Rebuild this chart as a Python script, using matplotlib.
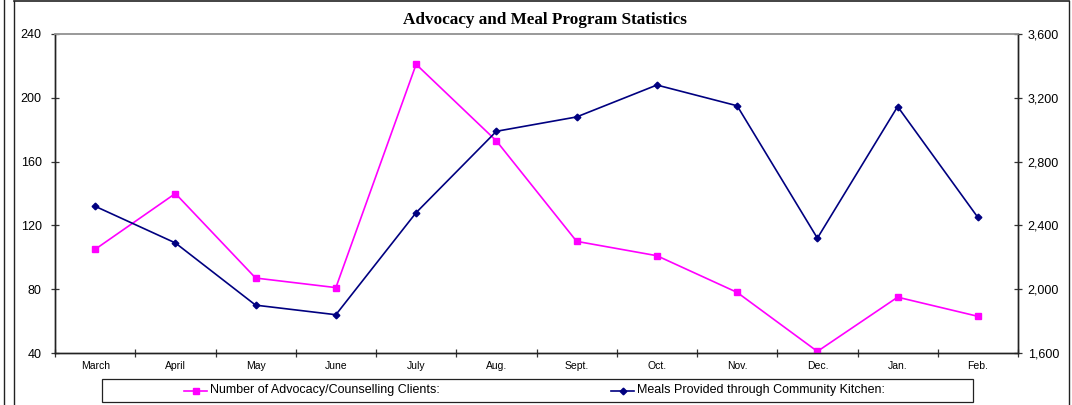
import matplotlib
matplotlib.use("Agg")
import matplotlib.pyplot as plt
from matplotlib.ticker import FuncFormatter, FixedLocator
from matplotlib.lines import Line2D
from matplotlib.patches import Rectangle

months = ["March", "April", "May", "June", "July", "Aug.", "Sept.", "Oct.",
          "Nov.", "Dec.", "Jan.", "Feb."]
advocacy_clients = [105, 140, 87, 81, 221, 173, 110, 101, 78, 41, 75, 63]
meals_provided = [2520, 2290, 1900, 1840, 2480, 2990, 3080, 3280, 3150, 2320, 3145, 2450]
left_ticks = [40, 80, 120, 160, 200, 240]
right_ticks = [1600, 2000, 2400, 2800, 3200, 3600]
title = "Advocacy and Meal Program Statistics"
label_adv = "Number of Advocacy/Counselling Clients:"
label_meals = "Meals Provided through Community Kitchen:"

W, H = 1072, 405
fig = plt.figure(figsize=(W / 100, H / 100), dpi=100)
fig.patch.set_facecolor("white")

L, R, T, B = 55, 1018, 34, 353
ax = fig.add_axes([L / W, 1 - B / H, (R - L) / W, (B - T) / H])
ax2 = ax.twinx()

x = list(range(len(months)))
ax.plot(x, advocacy_clients, color="#FF00FF", lw=1.2, marker="s", ms=4.2,
        mec="#FF00FF", mfc="#FF00FF", zorder=3)
ax2.plot(x, meals_provided, color="#000080", lw=1.2, marker="D", ms=3.4,
         mec="#000080", mfc="#000080", zorder=3)

ax.set_xlim(-0.5, len(months) - 0.5)
ax.set_ylim(left_ticks[0], left_ticks[-1])
ax2.set_ylim(right_ticks[0], right_ticks[-1])

ax.xaxis.set_major_locator(FixedLocator([i - 0.5 for i in range(len(months) + 1)]))
ax.xaxis.set_minor_locator(FixedLocator(x))
ax.set_xticklabels([])
ax.set_xticklabels(months, minor=True)
ax.tick_params(axis="x", which="minor", length=0, labelsize=7.5, pad=6)
ax.tick_params(axis="x", which="major", direction="inout", length=6, width=0.9, color="#333333")

ax.set_yticks(left_ticks)
ax.tick_params(axis="y", direction="inout", length=6, width=0.9, color="#333333", labelsize=9, pad=6.5)
ax2.set_yticks(right_ticks)
ax2.yaxis.set_major_formatter(FuncFormatter(lambda v, p: f"{int(v):,}"))
ax2.tick_params(axis="y", direction="inout", length=6, width=0.9, color="#333333", labelsize=9, pad=4)

for a in (ax, ax2):
    for s in ("left", "right", "bottom"):
        a.spines[s].set_color("#222222")
        a.spines[s].set_linewidth(1.0)
    a.spines["top"].set_color("#999999")
    a.spines["top"].set_linewidth(1.2)
    for lab in a.get_xticklabels(which="both") + a.get_yticklabels():
        lab.set_fontfamily("Liberation Sans")

fig.text(545 / W, 1 - 20 / H, title, ha="center", va="center",
         fontfamily="Liberation Serif", fontweight="bold", fontsize=12.3)

# legend box
fig.patches.append(Rectangle((102 / W, 1 - 402 / H), (973 - 102) / W, (402 - 379) / H,
                             transform=fig.transFigure, fill=False, ec="#222222", lw=0.9))
ly = 1 - 390.5 / H
fig.lines.append(Line2D([184 / W, 207 / W], [ly, ly], transform=fig.transFigure,
                        color="#FF00FF", lw=1.2))
fig.lines.append(Line2D([195.5 / W], [ly], transform=fig.transFigure,
                        color="#FF00FF", marker="s", ms=4.2, lw=0))
fig.text(210 / W, ly, label_adv, ha="left", va="center",
         fontfamily="Liberation Sans", fontsize=9)
fig.lines.append(Line2D([611 / W, 634 / W], [ly, ly], transform=fig.transFigure,
                        color="#000080", lw=1.2))
fig.lines.append(Line2D([622.5 / W], [ly], transform=fig.transFigure,
                        color="#000080", marker="D", ms=3.4, lw=0))
fig.text(637 / W, ly, label_meals, ha="left", va="center",
         fontfamily="Liberation Sans", fontsize=9)

# outer frame lines
fig.lines.append(Line2D([3.5 / W, 3.5 / W], [0, 1], transform=fig.transFigure, color="#222222", lw=1.0))
fig.lines.append(Line2D([13.5 / W, 13.5 / W], [0, 1 - 0.5 / H], transform=fig.transFigure, color="#222222", lw=1.0))
fig.lines.append(Line2D([1068.5 / W, 1068.5 / W], [0, 1 - 0.5 / H], transform=fig.transFigure, color="#222222", lw=1.0))
fig.lines.append(Line2D([13.5 / W, 1068.5 / W], [1 - 0.8 / H, 1 - 0.8 / H], transform=fig.transFigure, color="#222222", lw=1.2))

fig.savefig("out.png", dpi=100, facecolor="white")
